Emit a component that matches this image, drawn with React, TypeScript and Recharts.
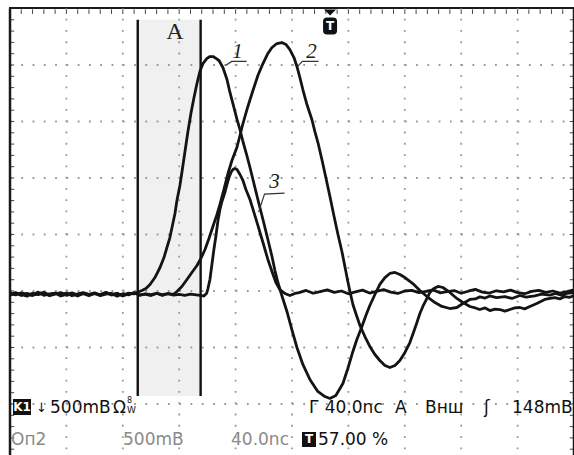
import React from 'react';
import { LineChart, Line, XAxis, YAxis, ReferenceLine, ReferenceArea, ReferenceDot } from 'recharts';

// time base 40 ns/div, vertical 500 mV/div; points are [ns, mV]
type Pt = [number, number];

const trace1: Pt[] = [
  [0, -28], [4, -14], [8, -40], [12, -22], [16, -34], [20, -10], [24, -38], [28, -26], [32, -18], [36, -44],
  [40, -30], [44, -16], [48, -36], [52, -24], [56, -42], [60, -20], [64, -32], [68, -12], [72, -36], [76, -22],
  [80, -40], [84, -18], [88, -26],
  [90.0, -13], [93.6, 4], [96.4, 22], [99.3, 58], [102.8, 119], [106.4, 208], [109.2, 296], [111.3, 385],
  [113.4, 473], [114.9, 562], [117.0, 686], [118.4, 801], [120.5, 934], [121.9, 1049], [124.1, 1235],
  [126.2, 1412], [128.3, 1571], [130.5, 1712], [132.6, 1836], [134.7, 1943], [136.8, 2013], [139.7, 2058],
  [141.8, 2075], [144.0, 2075], [146.1, 2058], [148.2, 2040], [151.0, 1978], [153.9, 1872], [156.0, 1757],
  [158.1, 1659], [161.0, 1518], [163.1, 1429], [165.2, 1323], [168.0, 1199], [170.2, 1093], [172.3, 987],
  [175.8, 810], [179.4, 633], [182.9, 456], [185.8, 305], [187.9, 181], [190.0, 75], [192.8, -40],
  [196.4, -181], [199.9, -341], [203.5, -500], [207.7, -650], [212.7, -783], [218.3, -889], [223.3, -934],
  [226.9, -951], [231.1, -925], [236.1, -819], [239.6, -686], [243.2, -535], [246.0, -429], [249.6, -314],
  [252.4, -217], [255.2, -128], [258.8, -31], [262.3, 58], [265.9, 119], [269.4, 155], [273.0, 164],
  [276.5, 146], [280.1, 119], [285.7, 66], [290.7, 4], [295.7, -49], [301.4, -102], [306.3, -137],
  [312.0, -155], [316.9, -146], [321.2, -111], [326.2, -75], [330.0, -70], [333.2, -52], [337.0, -62],
  [340.3, -44], [345.0, -58], [351.0, -50], [356.0, -66], [361.6, -40], [366.0, -55], [372.2, -44],
  [377.0, -28], [382.9, -36], [387.0, -22], [391.4, -40], [395.0, -20], [400, -13],
];

const trace2: Pt[] = [
  [0, -36], [4, -22], [8, -30], [12, -46], [16, -20], [20, -32], [24, -18], [28, -42], [32, -28], [36, -14],
  [40, -38], [44, -26], [48, -44], [52, -20], [56, -30], [60, -16], [64, -40], [68, -28], [72, -22], [76, -46],
  [80, -24], [84, -34], [88, -14], [92, -38], [96, -26], [100, -32], [104, -20], [108, -40], [112, -24], [116, -30],
  [118.4, -4], [121.9, 40], [125.5, 102], [129.0, 164], [132.6, 226], [135.4, 288], [138.3, 367], [141.1, 465],
  [143.9, 571], [146.8, 677], [148.9, 766], [151.7, 898], [154.6, 1040], [157.4, 1155], [160.9, 1270],
  [163.1, 1376], [165.2, 1482], [168.7, 1633], [172.3, 1774], [175.8, 1907], [179.4, 2013], [182.9, 2102],
  [185.8, 2155], [189.3, 2190], [192.8, 2199], [195.7, 2182], [198.5, 2137], [201.4, 2066], [203.5, 1987],
  [205.6, 1889], [207.7, 1783], [210.6, 1650], [214.1, 1518], [216.2, 1412], [218.4, 1314], [221.2, 1164],
  [224.0, 1004], [226.9, 836], [229.7, 668], [232.6, 500], [235.4, 350], [237.5, 217], [239.6, 84],
  [241.1, -4], [243.2, -119], [246.0, -226], [248.2, -305], [251.7, -403], [255.2, -491], [258.8, -562],
  [262.3, -615], [265.9, -659], [269.4, -677], [273.0, -659], [276.5, -615], [280.1, -544], [283.6, -456],
  [286.4, -359], [288.6, -279], [290.7, -199], [292.8, -137], [295.7, -66], [297.8, -13], [300.6, 22],
  [303.5, 40], [307.0, 31], [312.0, -13], [316.9, -66], [321.2, -102], [326.2, -137], [330.0, -150],
  [333.2, -164], [337.0, -150], [340.3, -173], [344.0, -160], [347.4, -164], [351.0, -178], [354.5, -164],
  [358.0, -150], [361.6, -146], [365.0, -158], [368.7, -137], [373.6, -111], [379.3, -75], [383.0, -66],
  [386.4, -58], [390.0, -70], [393.5, -49], [397.0, -56], [400, -40],
];

const trace3: Pt[] = [
  [0, -20], [4, -34], [8, -16], [12, -28], [16, -40], [20, -24], [24, -12], [28, -36], [32, -22], [36, -30],
  [40, -18], [44, -42], [48, -26], [52, -14], [56, -32], [60, -24], [64, -38], [68, -16], [72, -30], [76, -20],
  [80, -44], [84, -26], [88, -18], [92, -34], [96, -28], [100, -40], [104, -22], [108, -32], [112, -24], [116, -36],
  [120, -30], [124, -38], [128, -28], [132, -34], [136, -40], [137.5, -45], [139.5, -20], [140.4, 22],
  [141.8, 102], [143.2, 235], [144.6, 367], [146.1, 491], [147.5, 624], [148.9, 721], [150.3, 792],
  [152.4, 872], [153.9, 943], [155.3, 1004], [156.7, 1049], [158.1, 1075], [159.5, 1084], [161.0, 1075],
  [163.1, 1031], [165.2, 978], [167.3, 898], [170.2, 810], [173.0, 695], [175.8, 580], [179.4, 429],
  [182.9, 279], [185.8, 173], [188.6, 75], [191.4, 13], [195.0, -22], [198.5, -40], [202.1, -22],
  [205, -15], [210, 5], [215, -20], [220, -5], [225, 10], [230, -12], [235, 0], [240, -25], [245, -8],
  [250, 8], [255, -18], [260, -3], [265, 12], [270, -10], [275, -22], [280, 0], [285, 6], [290, -14],
  [295, -4], [300, 10], [305, -16], [310, -6], [315, 4], [320, -20], [325, -2], [330, 14], [335, -10],
  [340, -18], [345, 2], [350, -8], [355, 8], [360, -14], [365, -24], [370, -4], [375, 6], [380, -12],
  [385, 0], [390, -18], [395, -6], [400, 10],
];

const traces = [trace1, trace2, trace3];

// measurement cursors A and their vertical extent
const cursorsNs = [90.6, 135.2];
const cursorSpanMv = [-930, 2400];
const triggerNs = 227;

// curve number tags with their leader lines
const tagText = ['1', '2', '3'];
const tagAt: Pt[] = [[161.4, 2129], [213.8, 2129], [187.6, 981]];
const tagLeaders: Pt[][] = [
  [[152.9, 1996], [157.2, 2032], [167.8, 2032]],
  [[203.9, 1988], [207.4, 2032], [218.8, 2032]],
  [[176.3, 698], [180.5, 857], [194.7, 866]],
];
const areaTagAt: Pt = [117.0, 2305];

const T_MIN = 0;
const T_MAX = 400;
const V_MIN = -1500;
const V_MAX = 2500;

const toRows = (pts: Pt[]) => pts.map(([t, v]) => ({ t, v }));

// screen graticule: 10 x 8 divisions, 5 minor ticks per division
const xMajor = [40, 80, 120, 160, 200, 240, 280, 320, 360];
const yMajor = [-1000, -500, 0, 500, 1000, 1500, 2000];
const xMinor = Array.from({ length: 49 }, (_, i) => (i + 1) * 8);
const yMinor = Array.from({ length: 39 }, (_, i) => V_MIN + (i + 1) * 100);
// frame edge sits just inside the top of the range so it is never discarded
const V_EDGE = V_MAX - 8;
const tickLenMv = 40;
const tickLenNs = 3;

function TriggerMark(props: any) {
  const x = props.cx;
  const y = props.cy;
  return (
    <g>
      <path d={`M${x - 6},${y} L${x + 6},${y} L${x},${y + 6} Z`} fill="#111" />
      <rect x={x - 7} y={y + 8} width={14} height={17} rx={4} fill="#111" />
      <text x={x} y={y + 21} textAnchor="middle" fill="#fff" fontFamily="DejaVu Sans" fontWeight="bold" fontSize={12}>
        T
      </text>
    </g>
  );
}

const txt: React.CSSProperties = {
  position: 'absolute',
  fontFamily: '"DejaVu Sans", sans-serif',
  fontSize: 17,
  lineHeight: '17px',
  whiteSpace: 'pre',
  color: '#111',
};

const ax = { xAxisId: 't', yAxisId: 'v' };

export default function App() {
  return (
    <div style={{ position: 'fixed', left: 0, top: 0, width: 574, height: 455, overflow: 'hidden', background: '#fff' }}>
      {/* top edge of the screen frame */}
      <div style={{ position: 'absolute', left: 9, top: 7, width: 565, height: 2, background: '#1a1a1a' }} />
      <LineChart width={574} height={470} margin={{ top: 8.5, right: 0, bottom: 9.5, left: 10 }}>
        <XAxis xAxisId="t" type="number" dataKey="t" domain={[T_MIN, T_MAX]} allowDataOverflow hide />
        <YAxis yAxisId="v" type="number" domain={[V_MIN, V_MAX]} allowDataOverflow hide />

        {/* dotted graticule */}
        {xMajor.map((t) => (
          <ReferenceLine key={'gx' + t} {...ax} x={t} stroke="#999" strokeWidth={1.8} strokeDasharray="1.8 9.48" />
        ))}
        {yMajor.map((v) => (
          <ReferenceLine key={'gy' + v} {...ax} y={v} stroke="#999" strokeWidth={1.8} strokeDasharray="1.8 9.48" />
        ))}

        <ReferenceArea
          {...ax}
          x1={cursorsNs[0]}
          x2={cursorsNs[1]}
          y1={cursorSpanMv[0]}
          y2={cursorSpanMv[1]}
          fill="#e8e8e8"
          fillOpacity={0.65}
          stroke="none"
        />

        {/* frame with minor ticks */}
        {xMinor.map((t) => (
          <ReferenceLine key={'tt' + t} {...ax} segment={[{ x: t, y: V_EDGE }, { x: t, y: V_EDGE - tickLenMv }]} stroke="#444" strokeWidth={1} />
        ))}
        {yMinor.map((v) => (
          <ReferenceLine key={'tl' + v} {...ax} segment={[{ x: T_MIN + 0.5, y: v }, { x: T_MIN + tickLenNs, y: v }]} stroke="#444" strokeWidth={1} />
        ))}
        {yMinor.map((v) => (
          <ReferenceLine key={'tr' + v} {...ax} segment={[{ x: T_MAX - 0.5, y: v }, { x: T_MAX - tickLenNs, y: v }]} stroke="#444" strokeWidth={1} />
        ))}
        <ReferenceLine {...ax} x={T_MIN} stroke="#1a1a1a" strokeWidth={2.5} />
        <ReferenceLine {...ax} x={T_MAX} stroke="#1a1a1a" strokeWidth={2.5} />

        {cursorsNs.map((c) => (
          <ReferenceLine
            key={'c' + c}
            {...ax}
            segment={[{ x: c, y: cursorSpanMv[1] }, { x: c, y: cursorSpanMv[0] }]}
            stroke="#111"
            strokeWidth={2.4}
          />
        ))}
        <ReferenceDot
          {...ax}
          x={areaTagAt[0]}
          y={areaTagAt[1]}
          r={0}
          fill="none"
          stroke="none"
          label={{ value: 'A', position: 'center', fontFamily: 'Liberation Serif', fontSize: 24, fill: '#222' }}
        />

        {traces.map((tr, i) => (
          <Line
            key={'trace' + i}
            {...ax}
            data={toRows(tr)}
            dataKey="v"
            type="linear"
            dot={false}
            stroke="#141414"
            strokeWidth={2.8}
            strokeLinejoin="round"
            isAnimationActive={false}
          />
        ))}
        {tagLeaders.map((ld, i) => (
          <Line
            key={'ld' + i}
            {...ax}
            data={toRows(ld)}
            dataKey="v"
            type="linear"
            dot={false}
            stroke="#333"
            strokeWidth={1.2}
            isAnimationActive={false}
          />
        ))}
        {tagText.map((s, i) => (
          <ReferenceDot
            key={'tag' + s}
            {...ax}
            x={tagAt[i][0]}
            y={tagAt[i][1]}
            r={0}
            fill="none"
            stroke="none"
            label={{ value: s, position: 'center', fontFamily: 'Liberation Serif', fontStyle: 'italic', fontSize: 21, fill: '#222' }}
          />
        ))}
        <ReferenceDot
          {...ax}
          x={triggerNs}
          y={V_EDGE}
          r={6}
          shape={(p: any) => <TriggerMark cx={p.cx} cy={p.cy} />}
        />
      </LineChart>

      {/* status line 1 */}
      <div style={{ ...txt, left: 13, top: 399, width: 18, height: 16, background: '#111', color: '#fff', fontSize: 12, lineHeight: '16px', fontWeight: 'bold', textAlign: 'center' }}>K1</div>
      <div style={{ ...txt, left: 36, top: 401, fontSize: 13, lineHeight: '13px' }}>↓</div>
      <div style={{ ...txt, left: 50, top: 399 }}>500mB</div>
      <div style={{ ...txt, left: 113, top: 399 }}>Ω</div>
      <div style={{ ...txt, left: 127, top: 397, fontSize: 8, lineHeight: '8px' }}>8</div>
      <div style={{ ...txt, left: 127, top: 406, fontSize: 9, lineHeight: '9px' }}>W</div>
      <div style={{ ...txt, left: 309, top: 399 }}>Г 40.0nc</div>
      <div style={{ ...txt, left: 395, top: 399 }}>A</div>
      <div style={{ ...txt, left: 425, top: 399 }}>Внш</div>
      <div style={{ ...txt, left: 484, top: 399 }}>ʃ</div>
      <div style={{ ...txt, left: 512, top: 399 }}>148mB</div>

      {/* status line 2 */}
      <div style={{ ...txt, left: 11, top: 431, color: '#8a8a8a' }}>Оп2</div>
      <div style={{ ...txt, left: 123, top: 431, color: '#8a8a8a' }}>500mB</div>
      <div style={{ ...txt, left: 231, top: 431, color: '#8a8a8a' }}>40.0nc</div>
      <div style={{ ...txt, left: 302, top: 432, width: 14, height: 15, background: '#111', color: '#fff', fontSize: 12, lineHeight: '15px', fontWeight: 'bold', textAlign: 'center' }}>T</div>
      <div style={{ ...txt, left: 318, top: 431 }}>57.00 %</div>
    </div>
  );
}
